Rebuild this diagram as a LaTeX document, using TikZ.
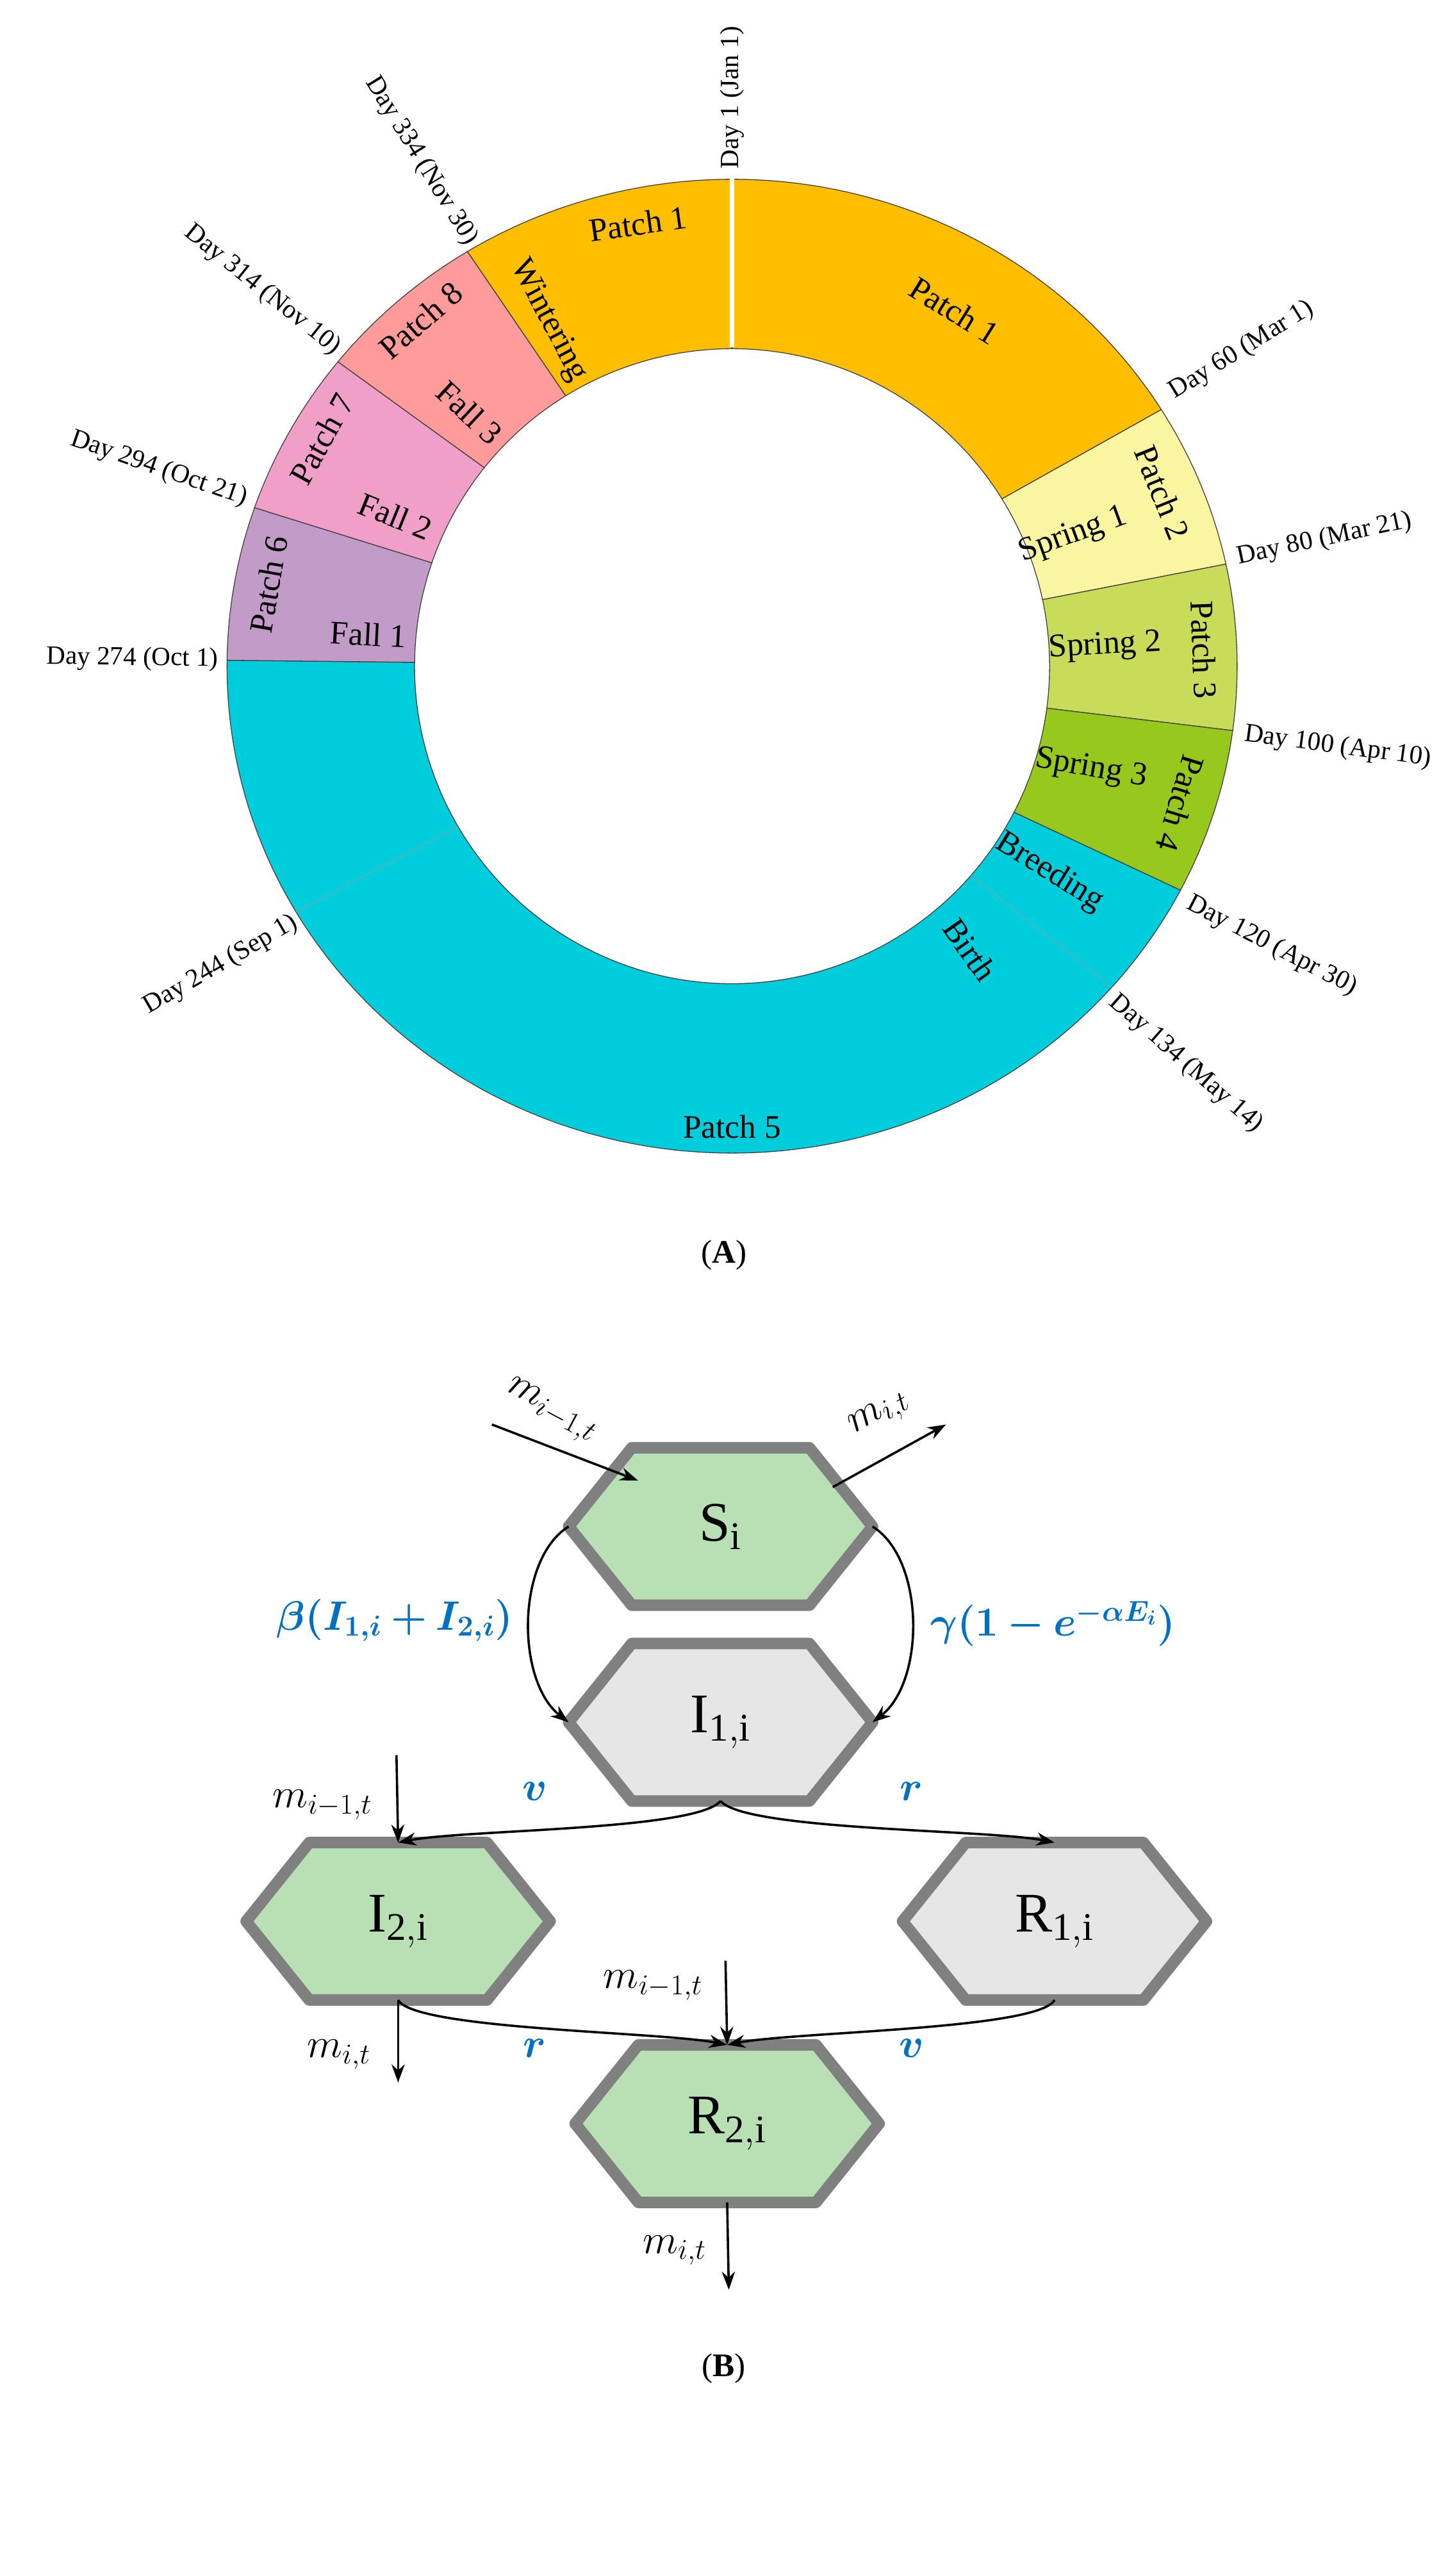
\documentclass[tikz,border=0pt]{standalone}
\usepackage{fix-cm}
\usepackage{amsmath,bm}
\usepackage{fontspec}
\setmainfont{Liberation Serif}
\usetikzlibrary{arrows.meta,calc,positioning}

\definecolor{pOrange}{HTML}{FFBE00}
\definecolor{pYellow}{HTML}{FAF5A0}
\definecolor{pLime}{HTML}{C8DC5A}
\definecolor{pGreen}{HTML}{96C81E}
\definecolor{pCyan}{HTML}{00CDDC}
\definecolor{pPurple}{HTML}{C39BC8}
\definecolor{pPink}{HTML}{F0A0C8}
\definecolor{pSalmon}{HTML}{FF9B9B}
\definecolor{hexGreen}{HTML}{B9E0B4}
\definecolor{hexGray}{HTML}{E6E6E6}
\definecolor{rateBlue}{HTML}{0070C0}

\tikzset{every picture/.style={line width=0.75pt}}
\tikzset{
  daylbl/.style={font=\fontsize{16}{18}\selectfont, inner sep=2pt},
  patchlbl/.style={font=\fontsize{20}{22}\selectfont, inner sep=0pt},
  hexnode/.style={minimum width=184pt, minimum height=95pt, inner sep=0pt, font=\fontsize{34}{36}\selectfont},
  hexline/.style={draw=black!50, line width=7pt, line join=round},
  flow/.style={line width=1.4pt, -{Stealth[length=11pt,width=8pt]}},
  mlbl/.style={font=\fontsize{25}{27}\selectfont, inner sep=1pt},
  rate/.style={font=\fontsize{25}{27}\selectfont, text=rateBlue, inner sep=1pt},
}
% annular sector: start angle, end angle, colour
\newcommand{\sector}[3]{%
  \filldraw[fill=#3, draw=black!75, line width=0.5pt] (#1:193) arc[start angle=#1, end angle=#2, radius=193]
    -- (#2:307 and 296) arc[start angle=#2, end angle=#1, x radius=307, y radius=296] -- cycle;}
% hexagon around a named node
\newcommand{\hexa}[2]{%
  \draw[hexline, fill=#2] (#1.west) -- ($(#1.north)+(-54pt,0)$) -- ($(#1.north)+(54pt,0)$) -- (#1.east)
    -- ($(#1.south)+(54pt,0)$) -- ($(#1.south)+(-54pt,0)$) -- cycle;}

\begin{document}
\begin{tikzpicture}[x=1pt,y=1pt]
\useasboundingbox (0,0) rectangle (880,1566);

%% (A) ring
\begin{scope}[shift={(445,1161)}]
\sector{90}{31.8}{pOrange}
\sector{31.8}{12.1}{pYellow}
\sector{12.1}{-7.6}{pLime}
\sector{-7.6}{-27.4}{pGreen}
\sector{-27.4}{-180.7}{pCyan}
\sector{179.3}{161}{pPurple}
\sector{161}{141.3}{pPink}
\sector{141.3}{121.6}{pSalmon}
\sector{121.6}{90}{pOrange}
\draw[white, line width=3pt] (90:194) -- (90:305);
\draw[black!40, line width=0.3pt] (-41.2:193) -- (-41.2:307 and 296);
\draw[black!40, line width=0.3pt] (-149.7:193) -- (-149.7:307 and 296);

% patch names
\node[patchlbl, rotate=-32] at (58:255) {Patch 1};
\node[patchlbl, rotate=-68] at (22:282) {Patch 2};
\node[patchlbl, rotate=-88] at (2:287) {Patch 3};
\node[patchlbl, rotate=-107] at (-17:285) {Patch 4};
\node[patchlbl] at (-90:280) {Patch 5};
\node[patchlbl, rotate=80] at (170:286) {Patch 6};
\node[patchlbl, rotate=61] at (151:285) {Patch 7};
\node[patchlbl, rotate=41] at (132:283) {Patch 8};
\node[patchlbl, rotate=8] at (102:275) {Patch 1};
% seasons
\node[patchlbl, rotate=20] at (21:222) {Spring 1};
\node[patchlbl, rotate=3] at (3:227) {Spring 2};
\node[patchlbl, rotate=-10] at (-16:227) {Spring 3};
\node[patchlbl, rotate=-32] at (-33:230) {Breeding};
\node[patchlbl, rotate=-55] at (-50:225) {Birth};
\node[patchlbl, rotate=-3] at (175:222) {Fall 1};
\node[patchlbl, rotate=-22] at (156:224) {Fall 2};
\node[patchlbl, rotate=-43] at (136:222) {Fall 3};
\node[patchlbl, rotate=-62] at (118:238) {Wintering};
% day marks
\node[daylbl, anchor=west, rotate=90] at (90:300) {Day 1 (Jan 1)};
\node[daylbl, anchor=west, rotate=31.8] at (31.8:312) {Day 60 (Mar 1)};
\node[daylbl, anchor=west, rotate=12.1] at (12.1:312) {Day 80 (Mar 21)};
\node[daylbl, anchor=west, rotate=-7.6] at (-7.6:312) {Day 100 (Apr 10)};
\node[daylbl, anchor=west, rotate=-27.4] at (-27.4:310) {Day 120 (Apr 30)};
\node[daylbl, anchor=west, rotate=-41.2] at (-41.2:305) {Day 134 (May 14)};
\node[daylbl, anchor=east, rotate=30.3] at (-149.7:305) {Day 244 (Sep 1)};
\node[daylbl, anchor=east, rotate=-0.7] at (179.3:310) {Day 274 (Oct 1)};
\node[daylbl, anchor=east, rotate=-19] at (161:310) {Day 294 (Oct 21)};
\node[daylbl, anchor=east, rotate=-38.7] at (141.3:305) {Day 314 (Nov 10)};
\node[daylbl, anchor=east, rotate=-58.4] at (121.6:300) {Day 334 (Nov 30)};
\end{scope}
\node[font=\fontsize{20}{22}\selectfont] (labA) at (440,803) {(\textbf{A})};

%% (B) compartments
\node[hexnode] (S) at (438,638) {};
\node[hexnode] (I1) at (438,519) {};
\node[hexnode] (I2) at (242,398) {};
\node[hexnode] (R1) at (641,398) {};
\node[hexnode] (R2) at (442,275) {};
\hexa{S}{hexGreen}
\hexa{I1}{hexGray}
\hexa{I2}{hexGreen}
\hexa{R1}{hexGray}
\hexa{R2}{hexGreen}
\node[font=\fontsize{34}{36}\selectfont] at (S) {S$_{\mathrm{i}}$};
\node[font=\fontsize{34}{36}\selectfont] at (I1) {I$_{\mathrm{1,i}}$};
\node[font=\fontsize{34}{36}\selectfont] at (I2) {I$_{\mathrm{2,i}}$};
\node[font=\fontsize{34}{36}\selectfont] at (R1) {R$_{\mathrm{1,i}}$};
\node[font=\fontsize{34}{36}\selectfont] at (R2) {R$_{\mathrm{2,i}}$};

\coordinate (sIn) at (299,700);
\coordinate (sOut) at (575,700);
\coordinate (iIn) at (241,499);
\coordinate (iOut) at (242,300);
\coordinate (rIn) at (441,374);
\coordinate (rOut) at (443,174);

\draw[flow] (sIn) -- ($(S.west)!0.5!(S.north)+(-4pt,4pt)$);
\draw[flow] ($(S.east)!0.5!(S.north)+(22pt,0)$) -- (sOut);
\draw[flow] (S.west) .. controls +(-32pt,-20pt) and +(-32pt,25pt) .. (I1.west);
\draw[flow] (S.east) .. controls +(32pt,-20pt) and +(32pt,25pt) .. (I1.east);
\draw[flow] (I1.south) .. controls +(-15pt,-18pt) and +(40pt,8pt) .. (I2.north);
\draw[flow] (I1.south) .. controls +(15pt,-18pt) and +(-40pt,8pt) .. (R1.north);
\draw[flow] (iIn) -- (I2.north);
\draw[flow] (I2.south) -- (iOut);
\draw[flow] (I2.south) .. controls +(10pt,-18pt) and +(-40pt,8pt) .. (R2.north);
\draw[flow] (R1.south) .. controls +(-10pt,-18pt) and +(40pt,8pt) .. (R2.north);
\draw[flow] (rIn) -- (R2.north);
\draw[flow] (R2.south) -- (rOut);

\node[mlbl, rotate=-28] at (335,708) {$m_{i-1,t}$};
\node[mlbl, rotate=30] at (535,706) {$m_{i,t}$};
\node[rate] at (240,581) {$\bm{\beta(I_{1,i}+I_{2,i})}$};
\node[rate] at (640,579) {$\bm{\gamma(1-e^{-\alpha E_i})}$};
\node[rate] at (325,477) {$\bm{v}$};
\node[rate] at (554,477) {$\bm{r}$};
\node[mlbl] at (196,469) {$m_{i-1,t}$};
\node[mlbl] at (206,317) {$m_{i,t}$};
\node[rate] at (325,321) {$\bm{r}$};
\node[rate] at (554,321) {$\bm{v}$};
\node[mlbl] at (397,359) {$m_{i-1,t}$};
\node[mlbl] at (410,198) {$m_{i,t}$};
\node[font=\fontsize{20}{22}\selectfont] (labB) at (440,126) {(\textbf{B})};
\end{tikzpicture}
\end{document}
